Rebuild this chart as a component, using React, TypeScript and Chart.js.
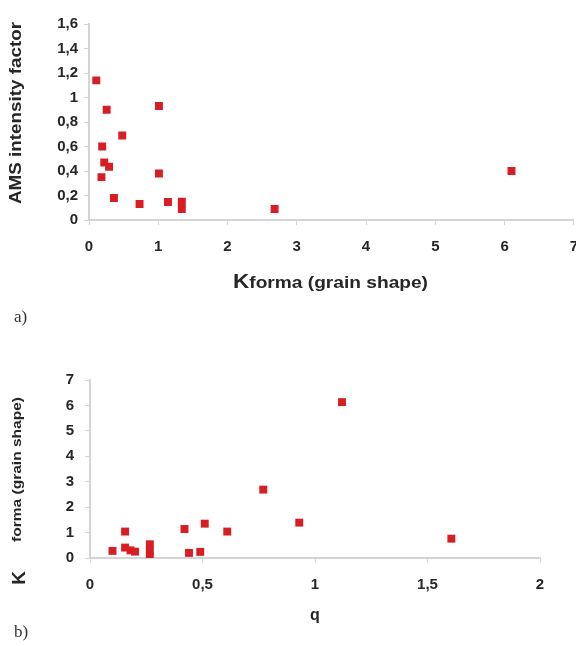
import React, { useEffect, useRef } from "react";
import { Chart, registerables } from "chart.js";

Chart.register(...registerables);

// Panel a): Kforma (grain shape) vs AMS intensity factor
const kformaA = [0.105, 0.255, 1.01, 0.48, 0.19, 0.22, 0.29, 0.18, 1.01, 0.36, 0.73, 1.14, 1.34, 1.34, 2.68, 6.1];
const amsA = [1.14, 0.9, 0.93, 0.69, 0.6, 0.47, 0.435, 0.35, 0.38, 0.18, 0.13, 0.147, 0.15, 0.09, 0.09, 0.4];

// Panel b): q vs Kforma (grain shape)
const qB = [0.1, 0.156, 0.156, 0.18, 0.2, 0.266, 0.266, 0.266, 0.42, 0.44, 0.49, 0.51, 0.61, 0.77, 0.93, 1.12, 1.606];
const kformaB = [0.28, 1.04, 0.41, 0.3, 0.25, 0.54, 0.28, 0.08, 1.14, 0.2, 0.24, 1.35, 1.04, 2.69, 1.39, 6.13, 0.76];

const axisAX = { min: 0, max: 7, step: 1 };
const axisAY = { min: 0, max: 1.6, step: 0.2 };
const axisBX = { min: 0, max: 2, step: 0.5 };
const axisBY = { min: 0, max: 7, step: 1 };

const RED = "#d81e24";
const TXT = "#262626";
const AXIS = "#d4d4d4";
const FAM = "'Liberation Sans', Arial, sans-serif";

const fmt = (v: number) => String(Math.round(v * 10) / 10).replace(".", ",");

function drawParts(ctx: CanvasRenderingContext2D, parts: { t: string; font: string }[], x: number, y: number, target: number) {
  let w = 0;
  for (const p of parts) {
    ctx.font = p.font;
    w += ctx.measureText(p.t).width;
  }
  const s = target / w;
  ctx.save();
  ctx.translate(x, y);
  ctx.scale(s, 1);
  let cx = 0;
  ctx.textAlign = "left";
  ctx.textBaseline = "alphabetic";
  ctx.fillStyle = TXT;
  for (const p of parts) {
    ctx.font = p.font;
    ctx.fillText(p.t, cx, 0);
    cx += ctx.measureText(p.t).width;
  }
  ctx.restore();
}

function scales(ax: any, ay: any, xPad: number, yPad: number, yWidth: number, xHeight: number) {
  const tickFont = { family: FAM, size: 15, weight: "bold" as const };
  return {
    x: {
      type: "linear" as const,
      min: ax.min,
      max: ax.max,
      afterFit: (s: any) => { s.height = xHeight; },
      ticks: { stepSize: ax.step, color: TXT, font: tickFont, padding: xPad, callback: (v: any) => fmt(Number(v)) },
      grid: { display: true, drawOnChartArea: false, drawTicks: true, tickLength: 5, color: AXIS, lineWidth: 1 },
      border: { display: true, color: AXIS, width: 2 },
      title: { display: false },
    },
    y: {
      type: "linear" as const,
      min: ay.min,
      max: ay.max,
      afterFit: (s: any) => { s.width = yWidth; },
      ticks: { stepSize: ay.step, color: TXT, font: tickFont, padding: yPad, callback: (v: any) => fmt(Number(v)) },
      grid: { display: true, drawOnChartArea: false, drawTicks: true, tickLength: 5, color: AXIS, lineWidth: 1 },
      border: { display: true, color: AXIS, width: 2 },
      title: { display: false },
    },
  };
}

function dataset(xs: number[], ys: number[]) {
  return {
    data: xs.map((x, i) => ({ x, y: ys[i] })),
    pointStyle: "rect" as const,
    pointRadius: 5.6,
    pointHoverRadius: 5.6,
    backgroundColor: RED,
    borderColor: RED,
    borderWidth: 0,
    showLine: false,
  };
}

export default function App() {
  const refA = useRef<HTMLCanvasElement>(null);
  const refB = useRef<HTMLCanvasElement>(null);

  useEffect(() => {
    document.body.style.margin = "0";
    const titlesA = {
      id: "titlesA",
      afterDraw(chart: any) {
        const ctx = chart.ctx as CanvasRenderingContext2D;
        ctx.save();
        ctx.translate(15, 113);
        ctx.rotate(-Math.PI / 2);
        drawParts(ctx, [{ t: "AMS intensity factor", font: `bold 17px ${FAM}` }], -91, 6, 182);
        ctx.restore();
        drawParts(
          ctx,
          [
            { t: "K", font: `bold 20px ${FAM}` },
            { t: "forma (grain shape)", font: `bold 17px ${FAM}` },
          ],
          233,
          288,
          195
        );
      },
    };
    const titlesB = {
      id: "titlesB",
      afterDraw(chart: any) {
        const ctx = chart.ctx as CanvasRenderingContext2D;
        ctx.save();
        ctx.translate(17, 470 - 330);
        ctx.rotate(-Math.PI / 2);
        drawParts(ctx, [{ t: "forma (grain shape)", font: `bold 12px ${FAM}` }], -72, 4, 145);
        ctx.restore();
        ctx.save();
        ctx.translate(20, 578 - 330);
        ctx.rotate(-Math.PI / 2);
        ctx.font = `bold 19px ${FAM}`;
        ctx.fillStyle = TXT;
        ctx.textAlign = "center";
        ctx.textBaseline = "middle";
        ctx.fillText("K", 0, 0);
        ctx.restore();
        ctx.save();
        ctx.font = `bold 16px ${FAM}`;
        ctx.fillStyle = TXT;
        ctx.textAlign = "center";
        ctx.textBaseline = "alphabetic";
        ctx.fillText("q", 315, 620 - 330);
        ctx.restore();
      },
    };

    const common = {
      responsive: false,
      animation: false as const,
      plugins: { legend: { display: false }, tooltip: { enabled: false } },
    };

    const chartA = new Chart(refA.current!, {
      type: "scatter",
      data: { datasets: [dataset(kformaA, amsA)] },
      options: {
        ...common,
        layout: { padding: { top: 24, left: 0, right: 0, bottom: 0 } },
        scales: scales(axisAX, axisAY, 13, 6, 89, 110),
      },
      plugins: [titlesA],
    });
    const chartB = new Chart(refB.current!, {
      type: "scatter",
      data: { datasets: [dataset(qB, kformaB)] },
      options: {
        ...common,
        layout: { padding: { top: 50, left: 0, right: 36, bottom: 0 } },
        scales: scales(axisBX, axisBY, 13, 11, 90, 88),
      },
      plugins: [titlesB],
    });
    return () => {
      chartA.destroy();
      chartB.destroy();
    };
  }, []);

  const label: React.CSSProperties = {
    position: "absolute",
    left: 14,
    fontFamily: "'Liberation Serif', 'Times New Roman', serif",
    fontSize: 17,
    color: "#333",
    lineHeight: "20px",
  };

  return (
    <div style={{ position: "relative", width: 576, height: 646, background: "#fff", overflow: "hidden" }}>
      <canvas ref={refA} width={591} height={330} style={{ position: "absolute", left: 0, top: 0 }} />
      <canvas ref={refB} width={576} height={316} style={{ position: "absolute", left: 0, top: 330 }} />
      <div style={{ ...label, top: 307 }}>a)</div>
      <div style={{ ...label, top: 622 }}>b)</div>
    </div>
  );
}
